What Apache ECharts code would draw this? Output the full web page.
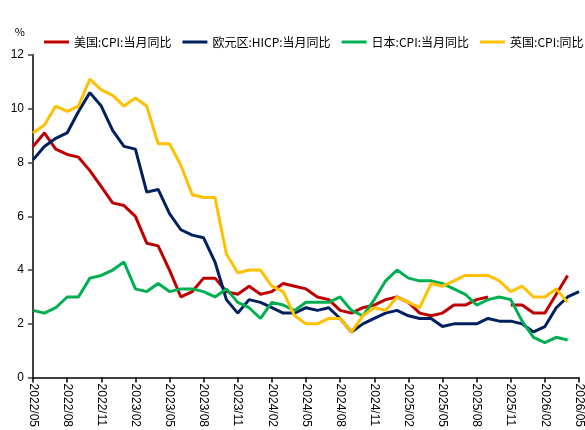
<!DOCTYPE html>
<html>
<head>
<meta charset="utf-8">
<script src="https://cdn.jsdelivr.net/npm/echarts@6/dist/echarts.min.js"></script>
<style>
  html, body { margin: 0; padding: 0; background: #fff; }
  #chart { width: 585px; height: 430px; }
</style>
</head>
<body>
<div id="chart"></div>
<script>
// Monthly categories, 2022/05 .. 2026/05
const months = [
  '2022/05','2022/06','2022/07','2022/08','2022/09','2022/10','2022/11','2022/12',
  '2023/01','2023/02','2023/03','2023/04','2023/05','2023/06','2023/07','2023/08','2023/09','2023/10','2023/11','2023/12',
  '2024/01','2024/02','2024/03','2024/04','2024/05','2024/06','2024/07','2024/08','2024/09','2024/10','2024/11','2024/12',
  '2025/01','2025/02','2025/03','2025/04','2025/05','2025/06','2025/07','2025/08','2025/09','2025/10','2025/11','2025/12',
  '2026/01','2026/02','2026/03','2026/04','2026/05'
];

// Year-on-year inflation, %
const usCPI = [
  8.6, 9.1, 8.5, 8.3, 8.2, 7.7, 7.1, 6.5,
  6.4, 6.0, 5.0, 4.9, 4.0, 3.0, 3.2, 3.7, 3.7, 3.2, 3.1, 3.4,
  3.1, 3.2, 3.5, 3.4, 3.3, 3.0, 2.9, 2.5, 2.4, 2.6, 2.7, 2.9,
  3.0, 2.8, 2.4, 2.3, 2.4, 2.7, 2.7, 2.9, 3.0, null, 2.7, 2.7,
  2.4, 2.4, 3.1, 3.8
];
const euroHICP = [
  8.1, 8.6, 8.9, 9.1, 9.9, 10.6, 10.1, 9.2,
  8.6, 8.5, 6.9, 7.0, 6.1, 5.5, 5.3, 5.2, 4.3, 2.9, 2.4, 2.9,
  2.8, 2.6, 2.4, 2.4, 2.6, 2.5, 2.6, 2.2, 1.7, 2.0, 2.2, 2.4,
  2.5, 2.3, 2.2, 2.2, 1.9, 2.0, 2.0, 2.0, 2.2, 2.1, 2.1, 2.0,
  1.7, 1.9, 2.6, 3.0, 3.2
];
const japanCPI = [
  2.5, 2.4, 2.6, 3.0, 3.0, 3.7, 3.8, 4.0,
  4.3, 3.3, 3.2, 3.5, 3.2, 3.3, 3.3, 3.2, 3.0, 3.3, 2.8, 2.6,
  2.2, 2.8, 2.7, 2.5, 2.8, 2.8, 2.8, 3.0, 2.5, 2.3, 2.9, 3.6,
  4.0, 3.7, 3.6, 3.6, 3.5, 3.3, 3.1, 2.7, 2.9, 3.0, 2.9, 2.1,
  1.5, 1.3, 1.5, 1.4
];
const ukCPI = [
  9.1, 9.4, 10.1, 9.9, 10.1, 11.1, 10.7, 10.5,
  10.1, 10.4, 10.1, 8.7, 8.7, 7.9, 6.8, 6.7, 6.7, 4.6, 3.9, 4.0,
  4.0, 3.4, 3.2, 2.3, 2.0, 2.0, 2.2, 2.2, 1.7, 2.3, 2.6, 2.5,
  3.0, 2.8, 2.6, 3.5, 3.4, 3.6, 3.8, 3.8, 3.8, 3.6, 3.2, 3.4,
  3.0, 3.0, 3.3, 2.8
];

const seriesNames = ['美国:CPI:当月同比', '欧元区:HICP:当月同比', '日本:CPI:当月同比', '英国:CPI:同比'];
const seriesColors = ['#C00000', '#002060', '#00B050', '#FFC000'];
const seriesData = [usCPI, euroHICP, japanCPI, ukCPI];

const FONT = '"Noto Sans CJK SC", "Liberation Sans", sans-serif';

const chart = echarts.init(document.getElementById('chart'), null, { renderer: 'canvas' });

chart.setOption({
  animation: false,
  backgroundColor: '#ffffff',
  textStyle: { fontFamily: FONT },
  grid: { left: 33, right: 5, top: 55, bottom: 51, containLabel: false },
  legend: {
    top: 36,
    left: 44,
    width: 560,
    padding: 0,
    itemWidth: 25,
    itemHeight: 3,
    itemGap: 11,
    icon: 'rect',
    textStyle: { fontSize: 12, color: '#000', fontFamily: FONT },
    data: seriesNames
  },
  xAxis: {
    type: 'category',
    data: months,
    boundaryGap: false,
    axisLine: { lineStyle: { color: '#000', width: 1.5 } },
    axisTick: { show: true, interval: 2, length: 5, lineStyle: { color: '#000', width: 1.5 } },
    axisLabel: {
      interval: 2,
      rotate: -90,
      margin: 6,
      fontSize: 12,
      color: '#000',
      fontFamily: '"Liberation Sans", Arial, sans-serif'
    },
    splitLine: { show: false }
  },
  yAxis: {
    type: 'value',
    min: 0,
    max: 12,
    interval: 2,
    name: '%',
    nameGap: 18,
    nameTextStyle: { color: '#000', fontSize: 11, align: 'right', padding: [0, 8, 0, 0] },
    axisLine: { show: true, lineStyle: { color: '#404040', width: 2 } },
    axisTick: { show: true, length: 5, lineStyle: { color: '#404040', width: 1.5 } },
    axisLabel: { fontSize: 12, color: '#000', margin: 9, fontFamily: '"Liberation Sans", Arial, sans-serif' },
    splitLine: { show: false }
  },
  series: seriesNames.map((name, i) => ({
    name: name,
    type: 'line',
    data: seriesData[i],
    showSymbol: false,
    symbol: 'none',
    connectNulls: false,
    lineStyle: { color: seriesColors[i], width: 3 },
    itemStyle: { color: seriesColors[i] },
    z: 2 + i
  }))
});
</script>
</body>
</html>
